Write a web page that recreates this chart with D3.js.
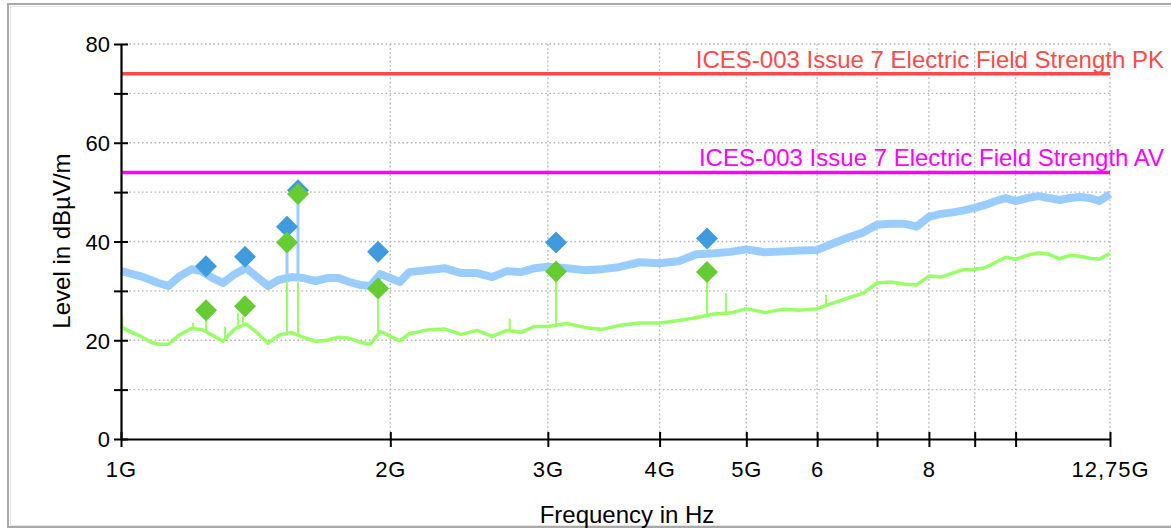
<!DOCTYPE html>
<html>
<head>
<meta charset="utf-8">
<script src="https://cdn.jsdelivr.net/npm/d3@7/dist/d3.min.js"></script>
<style>
  html, body { margin: 0; padding: 0; background: #fff; }
  svg { display: block; font-family: "Liberation Sans", Arial, sans-serif; }
</style>
</head>
<body>
<svg id="chart" width="1171" height="530"></svg>
<script>
// ---------- DATA ----------
const freqGHz = [1.00,1.02,1.05,1.08,1.10,1.13,1.16,1.20,1.23,1.26,1.30,1.34,1.38,1.42,1.46,1.50,1.55,1.60,1.65,1.70,1.75,1.80,1.85,1.90,1.95,2.00,2.05,2.10,2.20,2.30,2.40,2.50,2.60,2.70,2.80,2.90,3.00,3.15,3.30,3.45,3.60,3.80,4.00,4.20,4.40,4.60,4.80,5.00,5.25,5.50,5.75,6.00,6.25,6.50,6.75,7.00,7.25,7.50,7.75,8.00,8.25,8.50,8.75,9.00,9.25,9.50,9.75,10.0,10.3,10.6,10.9,11.2,11.5,11.8,12.1,12.4,12.75];
const peakLevel = [34.0,33.6,33.0,32.2,31.6,31.0,32.8,34.4,34.0,32.8,31.6,33.4,34.6,32.8,31.0,32.2,32.8,32.6,32.0,32.6,32.6,31.8,31.2,31.0,33.4,32.6,31.8,33.8,34.2,34.6,33.6,33.6,32.8,34.0,33.8,34.6,34.9,34.6,34.2,34.4,34.8,35.8,35.6,36.0,37.4,37.6,37.9,38.4,37.8,38.0,38.2,38.3,39.6,40.8,41.8,43.4,43.6,43.6,43.0,45.0,45.6,45.9,46.3,46.8,47.4,48.2,48.8,48.2,48.8,49.2,48.8,48.4,48.8,49.0,48.8,48.2,49.6];
const avLevel = [22.7,21.9,20.9,19.6,19.2,19.2,21.0,22.4,22.2,21.2,19.8,22.3,23.3,21.5,19.4,21.0,21.6,20.6,19.8,20.0,20.6,20.4,19.6,19.2,21.8,20.8,19.9,21.3,22.1,22.3,21.2,22.0,20.8,22.0,21.6,22.8,22.8,23.4,22.6,22.2,23.0,23.5,23.5,24.0,24.6,25.3,25.5,26.4,25.6,26.3,26.1,26.4,27.5,28.6,29.5,31.6,31.8,31.4,31.2,33.0,32.8,33.6,34.3,34.4,34.7,35.8,36.8,36.4,37.2,37.7,37.4,36.5,37.2,37.0,36.6,36.4,37.6];

// narrow-band spikes in the traces
const peakSpikeFreq = [1.533, 1.577];
const peakSpikeBase = [32.5, 32.6];
const peakSpikeTop  = [42.0, 49.0];
const avSpikeFreq = [1.003, 1.204, 1.245, 1.307, 1.351, 1.369, 1.533, 1.577, 1.938, 2.72, 3.064, 4.519, 4.745, 6.14];
const avSpikeBase = [22.6, 22.4, 22.0, 19.9, 22.8, 23.2, 21.3, 21.4, 21.6, 21.8, 22.9, 25.2, 25.5, 27.0];
const avSpikeTop  = [25.0, 23.5, 25.5, 22.8, 25.5, 25.0, 32.0, 31.8, 30.0, 24.4, 33.0, 33.0, 29.5, 29.2];

// final measurement markers
const markerFreq = [1.2445, 1.376, 1.533, 1.577, 1.938, 3.064, 4.519];
const peakMarker = [35.0, 36.9, 43.0, 50.4, 37.9, 39.8, 40.6];
const avMarker   = [26.1, 26.9, 39.8, 49.6, 30.5, 33.9, 33.8];

// limit lines
const limitNames  = ["ICES-003 Issue 7 Electric Field Strength PK", "ICES-003 Issue 7 Electric Field Strength AV"];
const limitValues = [74, 54];
const limitColors = ["#ff4a4a", "#ff00ff"];

// axes
const xTickValues = [1, 2, 3, 4, 5, 6, 7, 8, 9, 10, 12.75];
const xTickLabels = ["1G", "2G", "3G", "4G", "5G", "6", "", "8", "", "", "12,75G"];
const yTickValues = [0, 10, 20, 30, 40, 50, 60, 70, 80];
const yTickLabels = ["0", "", "20", "", "40", "", "60", "", "80"];
const xTitle = "Frequency in Hz";
const yTitle = "Level in dBµV/m";

// ---------- DRAW ----------
const svg = d3.select("#chart");
const L = 121, R = 1110, T = 44, B = 439;
const x = d3.scaleLog().domain([1, 12.75]).range([L, R]);
const y = d3.scaleLinear().domain([0, 80]).range([B, T]);

// frame
svg.append("rect").attr("x", 8).attr("y", 4).attr("width", 1200).attr("height", 523)
  .attr("fill", "#fff").attr("stroke", "#a9a9a9").attr("stroke-width", 2);
svg.append("rect").attr("x", 10.5).attr("y", 6.5).attr("width", 1200).attr("height", 519)
  .attr("fill", "none").attr("stroke", "#e4e4e4").attr("stroke-width", 1);

// grid
const grid = svg.append("g").attr("stroke", "#b4b4b4").attr("stroke-width", 1.4).attr("stroke-dasharray", "1.6,2.6");
grid.selectAll(".hg").data(yTickValues.filter(v => v > 0)).join("line")
  .attr("x1", L).attr("x2", R).attr("y1", d => y(d)).attr("y2", d => y(d));
grid.selectAll(".vg").data(xTickValues.filter(v => v > 1)).join("line")
  .attr("x1", d => x(d)).attr("x2", d => x(d)).attr("y1", T).attr("y2", B);

// limit lines
limitValues.forEach((v, i) => {
  svg.append("line").attr("x1", L).attr("x2", R).attr("y1", y(v)).attr("y2", y(v))
    .attr("stroke", limitColors[i]).attr("stroke-width", 3.5);
  svg.append("text").attr("x", 1164).attr("y", y(v) - 6).attr("text-anchor", "end")
    .attr("font-size", 24).attr("fill", limitColors[i]).text(limitNames[i]);
});

const pts = (vals) => freqGHz.map((f, i) => [f, vals[i]]);
const line = d3.line().x(d => x(d[0])).y(d => y(d[1]));

// peak trace
svg.append("path").datum(pts(peakLevel)).attr("d", line)
  .attr("fill", "none").attr("stroke", "#99ccff").attr("stroke-width", 8).attr("stroke-linejoin", "round");
svg.append("g").selectAll("line").data(peakSpikeFreq).join("line")
  .attr("x1", d => x(d)).attr("x2", d => x(d))
  .attr("y1", (d, i) => y(peakSpikeBase[i])).attr("y2", (d, i) => y(peakSpikeTop[i]))
  .attr("stroke", "#99ccff").attr("stroke-width", 3);

// average trace
svg.append("path").datum(pts(avLevel)).attr("d", line)
  .attr("fill", "none").attr("stroke", "#99ff66").attr("stroke-width", 3.5).attr("stroke-linejoin", "round");
svg.append("g").selectAll("line").data(avSpikeFreq).join("line")
  .attr("x1", d => x(d)).attr("x2", d => x(d))
  .attr("y1", (d, i) => y(avSpikeBase[i])).attr("y2", (d, i) => y(avSpikeTop[i]))
  .attr("stroke", "#99ff66").attr("stroke-width", 2);

// markers
const diamond = "M0,-11L11,0L0,11L-11,0Z";
svg.append("g").selectAll("path").data(markerFreq).join("path")
  .attr("d", diamond).attr("transform", (d, i) => `translate(${x(d)},${y(peakMarker[i])})`)
  .attr("fill", "#3f9bde");
svg.append("g").selectAll("path").data(markerFreq).join("path")
  .attr("d", diamond).attr("transform", (d, i) => `translate(${x(d)},${y(avMarker[i])})`)
  .attr("fill", "#66cc33");

// axes
const xAxis = svg.append("g").attr("transform", `translate(0,${B})`)
  .call(d3.axisBottom(x).tickValues(xTickValues).tickFormat((d, i) => xTickLabels[i]).tickSizeOuter(0));
const yAxis = svg.append("g").attr("transform", `translate(${L},0)`)
  .call(d3.axisLeft(y).tickValues(yTickValues).tickFormat((d, i) => yTickLabels[i]).tickSizeOuter(0));
[xAxis, yAxis].forEach(g => {
  g.select(".domain").attr("stroke", "#000").attr("stroke-width", 2.2);
  g.selectAll(".tick line").attr("stroke", "#000").attr("stroke-width", 2);
  g.selectAll(".tick text").attr("fill", "#000").attr("font-size", 22)
    .attr("font-family", "Liberation Sans, Arial, sans-serif");
});
xAxis.selectAll(".tick line").attr("y1", -7).attr("y2", 8);
xAxis.selectAll(".tick text").attr("y", 38).attr("dy", 0).attr("letter-spacing", 1);
yAxis.selectAll(".tick line").attr("x1", -7).attr("x2", 7);
yAxis.selectAll(".tick text").attr("x", -11).attr("dy", "0.36em");

// titles
svg.append("text").attr("x", 627).attr("y", 523).attr("text-anchor", "middle")
  .attr("font-size", 24).attr("fill", "#000").text(xTitle);
svg.append("text").attr("transform", "translate(70,241) rotate(-90)").attr("text-anchor", "middle")
  .attr("font-size", 24).attr("fill", "#000").text(yTitle);
</script>
</body>
</html>
